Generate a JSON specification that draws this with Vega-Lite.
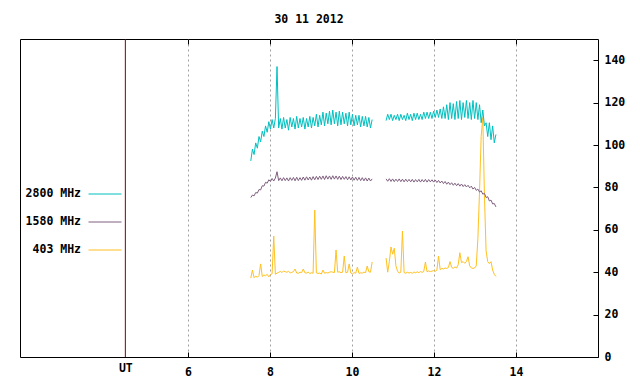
{
 "$schema": "https://vega.github.io/schema/vega-lite/v6.json",
 "width": 578,
 "height": 318,
 "autosize": "none",
 "padding": {"left": 20, "top": 39, "right": 42, "bottom": 27},
 "background": "white",
 "title": {"text": "30 11 2012", "font": "DejaVu Sans Mono", "fontSize": 11.5, "fontWeight": "bold", "color": "black", "offset": 13, "anchor": "middle"},
 "config": {"view": {"stroke": "black", "strokeWidth": 1}},
 "resolve": {"axis": {"x": "independent"}},
 "layer": [
  {
   "data": {"values": [{}]},
   "mark": {"type": "rule", "color": "#800000", "strokeWidth": 1},
   "encoding": {"x": {"datum": 4.47, "type": "quantitative", "scale": {"domain": [1.9, 16], "nice": false, "zero": false}, "axis": null}}
  },
  {
   "data": {"values": [
    {"t":7.53,"s":1,"2800":92.5,"1580":75.2,"403":37.2},
    {"t":7.57,"s":1,"2800":98.0,"1580":76.4,"403":41.0},
    {"t":7.61,"s":1,"2800":95.5,"1580":76.0,"403":37.4},
    {"t":7.65,"s":1,"2800":101.0,"1580":77.6,"403":38.2},
    {"t":7.69,"s":1,"2800":98.5,"1580":77.3,"403":37.6},
    {"t":7.73,"s":1,"2800":104.0,"1580":79.0,"403":38.4},
    {"t":7.77,"s":1,"2800":101.5,"1580":78.8,"403":43.9},
    {"t":7.81,"s":1,"2800":106.5,"1580":80.8,"403":38.0},
    {"t":7.85,"s":1,"2800":104.0,"1580":80.6,"403":38.7},
    {"t":7.89,"s":1,"2800":109.0,"1580":82.4,"403":38.3},
    {"t":7.93,"s":1,"2800":106.0,"1580":82.0,"403":39.0},
    {"t":7.97,"s":1,"2800":111.0,"1580":83.6,"403":37.8},
    {"t":8.01,"s":1,"2800":107.5,"1580":82.8,"403":38.9},
    {"t":8.05,"s":1,"2800":112.0,"1580":84.2,"403":39.2},
    {"t":8.09,"s":1,"2800":108.0,"1580":83.0,"403":57.0},
    {"t":8.13,"s":1,"2800":112.5,"1580":84.4,"403":39.0},
    {"t":8.17,"s":1,"2800":137.0,"1580":87.4,"403":39.6},
    {"t":8.21,"s":1,"2800":108.0,"1580":83.2,"403":39.9},
    {"t":8.25,"s":1,"2800":112.5,"1580":84.5,"403":40.4},
    {"t":8.29,"s":1,"2800":107.5,"1580":83.1,"403":39.8},
    {"t":8.33,"s":1,"2800":113.0,"1580":84.6,"403":40.6},
    {"t":8.37,"s":1,"2800":108.0,"1580":83.2,"403":40.2},
    {"t":8.41,"s":1,"2800":112.0,"1580":84.5,"403":40.0},
    {"t":8.45,"s":1,"2800":107.0,"1580":83.0,"403":40.4},
    {"t":8.49,"s":1,"2800":113.0,"1580":84.6,"403":39.7},
    {"t":8.53,"s":1,"2800":108.5,"1580":83.3,"403":39.9},
    {"t":8.57,"s":1,"2800":112.5,"1580":84.7,"403":40.3},
    {"t":8.61,"s":1,"2800":107.5,"1580":83.1,"403":41.5},
    {"t":8.65,"s":1,"2800":113.5,"1580":84.8,"403":39.6},
    {"t":8.69,"s":1,"2800":108.0,"1580":83.2,"403":39.5},
    {"t":8.73,"s":1,"2800":112.5,"1580":84.6,"403":40.0},
    {"t":8.77,"s":1,"2800":108.5,"1580":83.3,"403":39.8},
    {"t":8.81,"s":1,"2800":113.0,"1580":84.9,"403":41.5},
    {"t":8.85,"s":1,"2800":107.5,"1580":83.4,"403":39.7},
    {"t":8.89,"s":1,"2800":112.5,"1580":85.0,"403":39.6},
    {"t":8.93,"s":1,"2800":108.5,"1580":83.5,"403":40.1},
    {"t":8.97,"s":1,"2800":113.5,"1580":84.9,"403":39.3},
    {"t":9.01,"s":1,"2800":108.0,"1580":83.4,"403":39.8},
    {"t":9.05,"s":1,"2800":113.0,"1580":85.1,"403":39.5},
    {"t":9.09,"s":1,"2800":109.0,"1580":83.6,"403":69.3},
    {"t":9.13,"s":1,"2800":114.5,"1580":85.2,"403":39.7},
    {"t":9.17,"s":1,"2800":108.5,"1580":83.7,"403":39.4},
    {"t":9.21,"s":1,"2800":114.0,"1580":85.3,"403":39.6},
    {"t":9.25,"s":1,"2800":109.5,"1580":83.8,"403":39.1},
    {"t":9.29,"s":1,"2800":115.5,"1580":85.4,"403":41.0},
    {"t":9.33,"s":1,"2800":109.0,"1580":83.7,"403":39.5},
    {"t":9.37,"s":1,"2800":115.0,"1580":85.5,"403":39.8},
    {"t":9.41,"s":1,"2800":110.0,"1580":83.9,"403":39.6},
    {"t":9.45,"s":1,"2800":116.0,"1580":85.4,"403":40.0},
    {"t":9.49,"s":1,"2800":109.5,"1580":83.8,"403":40.2},
    {"t":9.53,"s":1,"2800":116.5,"1580":85.5,"403":40.0},
    {"t":9.57,"s":1,"2800":110.0,"1580":83.9,"403":39.8},
    {"t":9.61,"s":1,"2800":115.5,"1580":85.4,"403":50.5},
    {"t":9.65,"s":1,"2800":109.0,"1580":83.8,"403":40.0},
    {"t":9.69,"s":1,"2800":116.0,"1580":85.3,"403":40.2},
    {"t":9.73,"s":1,"2800":109.5,"1580":83.7,"403":39.8},
    {"t":9.77,"s":1,"2800":115.5,"1580":85.2,"403":40.0},
    {"t":9.81,"s":1,"2800":110.0,"1580":83.8,"403":47.6},
    {"t":9.85,"s":1,"2800":115.0,"1580":85.1,"403":39.7},
    {"t":9.89,"s":1,"2800":109.0,"1580":83.6,"403":40.0},
    {"t":9.93,"s":1,"2800":115.5,"1580":85.0,"403":43.9},
    {"t":9.97,"s":1,"2800":109.5,"1580":83.5,"403":39.6},
    {"t":10.01,"s":1,"2800":114.5,"1580":84.9,"403":39.2},
    {"t":10.05,"s":1,"2800":109.0,"1580":83.4,"403":39.8},
    {"t":10.09,"s":1,"2800":114.0,"1580":84.8,"403":39.5},
    {"t":10.13,"s":1,"2800":109.5,"1580":83.3,"403":42.4},
    {"t":10.17,"s":1,"2800":114.0,"1580":84.7,"403":39.4},
    {"t":10.21,"s":1,"2800":108.5,"1580":83.2,"403":39.7},
    {"t":10.25,"s":1,"2800":113.5,"1580":84.6,"403":39.6},
    {"t":10.29,"s":1,"2800":109.0,"1580":83.1,"403":40.0},
    {"t":10.33,"s":1,"2800":113.5,"1580":84.5,"403":39.8},
    {"t":10.37,"s":1,"2800":108.5,"1580":83.0,"403":42.9},
    {"t":10.41,"s":1,"2800":113.0,"1580":84.4,"403":40.2},
    {"t":10.45,"s":1,"2800":108.0,"1580":83.0,"403":40.0},
    {"t":10.49,"s":1,"2800":112.0,"1580":84.0,"403":44.8},
    {"t":10.83,"s":2,"2800":111.5,"1580":84.0,"403":46.7},
    {"t":10.87,"s":2,"2800":114.5,"1580":82.9,"403":40.0},
    {"t":10.91,"s":2,"2800":112.0,"1580":84.1,"403":45.0},
    {"t":10.95,"s":2,"2800":114.5,"1580":82.8,"403":51.9},
    {"t":10.99,"s":2,"2800":111.5,"1580":84.0,"403":48.5},
    {"t":11.03,"s":2,"2800":114.0,"1580":82.7,"403":51.3},
    {"t":11.07,"s":2,"2800":112.0,"1580":83.9,"403":43.0},
    {"t":11.11,"s":2,"2800":114.5,"1580":82.8,"403":40.5},
    {"t":11.15,"s":2,"2800":111.5,"1580":84.0,"403":39.6},
    {"t":11.19,"s":2,"2800":114.5,"1580":82.7,"403":40.0},
    {"t":11.23,"s":2,"2800":112.0,"1580":83.9,"403":59.4},
    {"t":11.27,"s":2,"2800":114.0,"1580":82.6,"403":39.8},
    {"t":11.31,"s":2,"2800":111.5,"1580":83.9,"403":39.5},
    {"t":11.35,"s":2,"2800":115.0,"1580":82.7,"403":40.0},
    {"t":11.39,"s":2,"2800":112.0,"1580":83.8,"403":39.6},
    {"t":11.43,"s":2,"2800":114.5,"1580":82.6,"403":39.9},
    {"t":11.47,"s":2,"2800":111.5,"1580":83.8,"403":39.5},
    {"t":11.51,"s":2,"2800":115.0,"1580":82.5,"403":40.1},
    {"t":11.55,"s":2,"2800":112.0,"1580":83.7,"403":39.7},
    {"t":11.59,"s":2,"2800":115.0,"1580":82.6,"403":40.2},
    {"t":11.63,"s":2,"2800":112.0,"1580":83.8,"403":39.8},
    {"t":11.67,"s":2,"2800":114.5,"1580":82.5,"403":40.3},
    {"t":11.71,"s":2,"2800":112.0,"1580":83.7,"403":39.9},
    {"t":11.75,"s":2,"2800":115.5,"1580":82.6,"403":40.4},
    {"t":11.79,"s":2,"2800":112.5,"1580":83.8,"403":44.8},
    {"t":11.83,"s":2,"2800":115.5,"1580":82.5,"403":40.2},
    {"t":11.87,"s":2,"2800":112.5,"1580":83.7,"403":40.6},
    {"t":11.91,"s":2,"2800":115.5,"1580":82.6,"403":40.3},
    {"t":11.95,"s":2,"2800":112.5,"1580":83.6,"403":40.5},
    {"t":11.99,"s":2,"2800":116.0,"1580":82.5,"403":40.8},
    {"t":12.03,"s":2,"2800":113.0,"1580":83.5,"403":40.4},
    {"t":12.07,"s":2,"2800":116.5,"1580":82.3,"403":41.0},
    {"t":12.11,"s":2,"2800":113.0,"1580":83.3,"403":47.6},
    {"t":12.15,"s":2,"2800":117.0,"1580":82.1,"403":41.2},
    {"t":12.19,"s":2,"2800":112.5,"1580":83.0,"403":41.8},
    {"t":12.23,"s":2,"2800":118.0,"1580":81.8,"403":41.5},
    {"t":12.27,"s":2,"2800":112.5,"1580":82.8,"403":42.0},
    {"t":12.31,"s":2,"2800":119.0,"1580":81.5,"403":41.8},
    {"t":12.35,"s":2,"2800":112.0,"1580":82.5,"403":42.2},
    {"t":12.39,"s":2,"2800":120.0,"1580":81.3,"403":45.0},
    {"t":12.43,"s":2,"2800":112.5,"1580":82.2,"403":42.3},
    {"t":12.47,"s":2,"2800":119.5,"1580":81.0,"403":41.8},
    {"t":12.51,"s":2,"2800":112.0,"1580":82.0,"403":42.5},
    {"t":12.55,"s":2,"2800":120.5,"1580":80.8,"403":42.0},
    {"t":12.59,"s":2,"2800":112.5,"1580":81.8,"403":43.5},
    {"t":12.63,"s":2,"2800":121.0,"1580":80.6,"403":49.2},
    {"t":12.67,"s":2,"2800":112.0,"1580":81.6,"403":44.5},
    {"t":12.71,"s":2,"2800":120.0,"1580":80.4,"403":45.0},
    {"t":12.75,"s":2,"2800":113.0,"1580":81.3,"403":44.2},
    {"t":12.79,"s":2,"2800":121.0,"1580":80.2,"403":45.0},
    {"t":12.83,"s":2,"2800":112.5,"1580":81.0,"403":47.3},
    {"t":12.87,"s":2,"2800":120.0,"1580":79.8,"403":43.0},
    {"t":12.91,"s":2,"2800":112.0,"1580":80.6,"403":42.0},
    {"t":12.95,"s":2,"2800":121.0,"1580":79.2,"403":41.8},
    {"t":12.99,"s":2,"2800":112.5,"1580":80.0,"403":42.0},
    {"t":13.03,"s":2,"2800":120.0,"1580":78.6,"403":43.0},
    {"t":13.07,"s":2,"2800":112.0,"1580":79.2,"403":56.0},
    {"t":13.11,"s":2,"2800":119.0,"1580":77.8,"403":78.0},
    {"t":13.15,"s":2,"2800":110.5,"1580":78.4,"403":104.0},
    {"t":13.19,"s":2,"2800":116.5,"1580":76.8,"403":113.0},
    {"t":13.23,"s":2,"2800":109.0,"1580":77.2,"403":76.0},
    {"t":13.27,"s":2,"2800":110.5,"1580":75.2,"403":50.0},
    {"t":13.31,"s":2,"2800":104.0,"1580":75.6,"403":45.0},
    {"t":13.35,"s":2,"2800":110.5,"1580":73.6,"403":44.0},
    {"t":13.39,"s":2,"2800":102.5,"1580":74.0,"403":45.0},
    {"t":13.43,"s":2,"2800":109.0,"1580":72.2,"403":41.0},
    {"t":13.47,"s":2,"2800":101.0,"1580":72.4,"403":39.0},
    {"t":13.51,"s":2,"2800":105.0,"1580":70.8,"403":38.0}
   ]},
   "transform": [{"fold": ["403", "1580", "2800"], "as": ["band", "v"]}],
   "mark": {"type": "line", "strokeWidth": 1},
   "encoding": {
    "x": {"field": "t", "type": "quantitative", "scale": {"domain": [1.9, 16], "nice": false, "zero": false},
     "axis": {"title": null, "orient": "bottom", "values": [4.47, 6, 8, 10, 12, 14],
      "labelExpr": "datum.value < 5 ? 'UT' : datum.label",
      "domain": false, "grid": true, "gridColor": "#a0a0a0", "gridDash": [2, 3],
      "gridOpacity": {"condition": {"test": "datum.value < 5", "value": 0}, "value": 1},
      "tickSize": -5, "tickColor": "black",
      "tickOpacity": {"condition": {"test": "datum.value < 5", "value": 0}, "value": 1},
      "labelPadding": {"condition": {"test": "datum.value < 5", "value": 10}, "value": 14},
      "labelFont": "DejaVu Sans Mono", "labelFontSize": 11.5, "labelFontWeight": "bold", "labelColor": "black",
      "labelFlush": false, "labelBaseline": "top"}},
    "y": {"field": "v", "type": "quantitative", "scale": {"domain": [0, 150], "nice": false},
     "axis": {"title": null, "orient": "right", "values": [0, 20, 40, 60, 80, 100, 120, 140],
      "domain": false, "grid": false, "tickSize": -5, "tickColor": "black", "labelPadding": 11,
      "labelFont": "DejaVu Sans Mono", "labelFontSize": 11.5, "labelFontWeight": "bold", "labelColor": "black",
      "labelAlign": "left", "labelBaseline": "middle", "labelFlush": false}},
    "color": {"field": "band", "type": "nominal",
     "scale": {"domain": ["2800", "1580", "403"], "range": ["#00c0c0", "#7f5f7f", "#ffc020"]},
     "legend": {"orient": "none", "legendX": 68, "legendY": 138, "title": null,
      "symbolType": "stroke", "symbolSize": 1089, "symbolStrokeWidth": 1,
      "labelAlign": "right", "labelOffset": -41, "labelExpr": "datum.label + ' MHz'",
      "labelFont": "DejaVu Sans Mono", "labelFontSize": 11.5, "labelFontWeight": "bold", "labelColor": "black",
      "rowPadding": 5, "padding": 0}},
    "detail": {"field": "s"}
   }
  },
  {
   "data": {"values": [{}]},
   "mark": {"type": "point", "opacity": 0},
   "encoding": {
    "x": {"datum": 6, "type": "quantitative",
     "axis": {"orient": "top", "title": null, "values": [6, 8, 10, 12, 14], "labels": false, "domain": false, "grid": false,
      "tickSize": -5, "tickColor": "black"}}
   }
  }
 ]
}
